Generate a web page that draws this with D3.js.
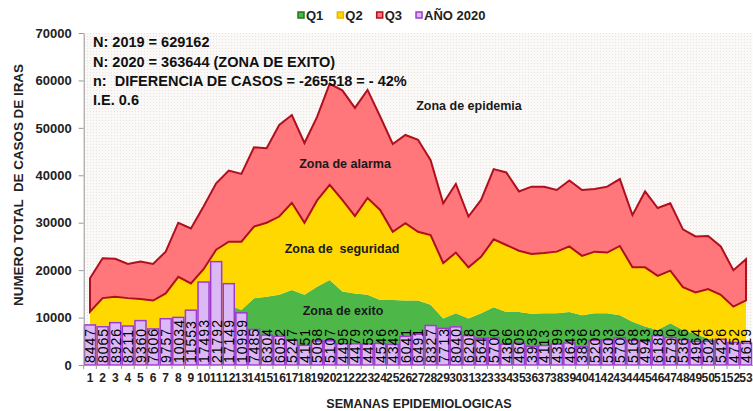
<!DOCTYPE html>
<html lang="es">
<head>
<meta charset="UTF-8">
<title>Canal endemico IRAS 2020</title>
<script src="https://d3js.org/d3.v7.min.js"></script>
<style>
  body { margin: 0; background: #fff; }
  svg { display: block; font-family: "Liberation Sans", Arial, sans-serif; }
</style>
</head>
<body>
<div id="chart"></div>
<script>
// semanas epidemiologicas 1..53
const weeks = d3.range(1, 54);

// canal endemico (limites acumulados)
const q1 = [0, 0, 0, 0, 0, 0, 0, 0, 0, 0, 0, 12700, 11600, 14100, 14400, 14800, 15800, 14800, 16500, 17900,
  15500, 15100, 14800, 13700, 13700, 13600, 13600, 12700, 9800, 10900, 9800, 10900, 12200, 11200, 11200, 10800,
  10900, 10900, 11200, 10500, 10900, 10900, 10500, 9100, 8100, 7400, 8800, 7400, 6500, 5600, 5000, 4600, 4400];
const q2 = [11250, 14100, 14400, 14100, 13900, 13600, 15100, 18600, 17200, 20200, 24300, 26000, 26000, 29200, 30000,
  31300, 34200, 30000, 34700, 38000, 34800, 31400, 35200, 32700, 28100, 29900, 28100, 27400, 21500, 23700, 20600,
  22800, 26500, 25300, 24100, 23400, 23600, 23900, 25000, 23000, 23900, 23700, 25100, 20600, 20600, 18800, 19900,
  16400, 15300, 16000, 14800, 12300, 13600];
const q3 = [18300, 22500, 22400, 21300, 21800, 21300, 23900, 30000, 28800, 33400, 38300, 41000, 40300, 45900, 45700,
  50600, 52700, 46800, 52300, 59300, 57900, 54200, 58000, 52400, 46600, 48500, 47500, 43200, 34100, 38200, 31300,
  34800, 41300, 40600, 36600, 37600, 37600, 36900, 38900, 36900, 37100, 37600, 39200, 31600, 36600, 33100, 34100,
  28600, 27100, 27200, 25000, 20000, 22300];

// casos 2020
const cases2020 = [8447, 8065, 8926, 8211, 9360, 7606, 9757, 10034, 11553, 17493, 21792, 17149, 10999, 7485, 6304,
  6052, 5247, 4151, 5068, 5107, 4495, 4479, 4453, 4546, 4343, 6041, 6491, 8327, 7713, 8040, 6208, 5649, 5700,
  4366, 4605, 3935, 4113, 4399, 4643, 3836, 5205, 5303, 5706, 5168, 4943, 6188, 5790, 5366, 4964, 5026, 5426,
  4752, 4619];

const yTicks = [0, 10000, 20000, 30000, 40000, 50000, 60000, 70000];

const notes = [
  "N: 2019 = 629162",
  "N: 2020 = 363644 (ZONA DE EXITO)",
  "n:  DIFERENCIA DE CASOS = -265518 = - 42%",
  "I.E. 0.6"
];

const legendItems = [
  { label: "Q1", fill: "#4DB848", stroke: "#1E7A1E" },
  { label: "Q2", fill: "#FFD800", stroke: "#F0B400" },
  { label: "Q3", fill: "#FF767B", stroke: "#B0101E" },
  { label: "AÑO 2020", fill: "#DDB8F6", stroke: "#9C3CCB" }
];

const width = 753, height = 411;
const margin = { top: 33, right: 0.7, bottom: 46, left: 83.7 };

const svg = d3.select("#chart").append("svg")
  .attr("width", width)
  .attr("height", height);

const x = d3.scaleBand()
  .domain(weeks)
  .range([margin.left, width - margin.right])
  .padding(0);

const y = d3.scaleLinear()
  .domain([0, 70000])
  .range([height - margin.bottom, margin.top]);

const cx = w => x(w) + x.bandwidth() / 2;

// fondo punteado del area de trazado
const defs = svg.append("defs");
const pat = defs.append("pattern")
  .attr("id", "dots")
  .attr("width", 3).attr("height", 3)
  .attr("patternUnits", "userSpaceOnUse");
pat.append("rect").attr("width", 3).attr("height", 3).attr("fill", "#fbf9f7");
pat.append("rect").attr("width", 1).attr("height", 1).attr("fill", "#e9e3de");

svg.append("rect")
  .attr("x", margin.left)
  .attr("y", margin.top)
  .attr("width", width - margin.right - margin.left)
  .attr("height", y(0) - margin.top)
  .attr("fill", "url(#dots)");

// areas apiladas
const zones = [
  { lo: weeks.map(() => 0), hi: q1, fill: "#4DB848", stroke: "none" },
  { lo: q1, hi: q2, fill: "#FFD800", stroke: "none" },
  { lo: q2, hi: q3, fill: "#FF767B", stroke: "#B0101E" }
];

zones.forEach(z => {
  const area = d3.area()
    .x((d, i) => cx(weeks[i]))
    .y0((d, i) => y(z.lo[i]))
    .y1((d, i) => y(z.hi[i]));
  svg.append("path")
    .datum(weeks)
    .attr("d", area)
    .attr("fill", z.fill)
    .attr("stroke", z.stroke)
    .attr("stroke-width", 2)
    .attr("stroke-linejoin", "miter");
});

// barras 2020
svg.append("g")
  .selectAll("rect")
  .data(cases2020)
  .join("rect")
  .attr("x", (d, i) => x(weeks[i]) + 0.8)
  .attr("y", d => y(d))
  .attr("width", x.bandwidth() - 1.6)
  .attr("height", d => y(0) - y(d))
  .attr("fill", "#DDB8F6")
  .attr("stroke", "#9C3CCB")
  .attr("stroke-width", 1.5);

svg.append("g")
  .selectAll("text")
  .data(cases2020)
  .join("text")
  .attr("transform", (d, i) => `translate(${cx(weeks[i]) + 0.3},${y(0) - 2}) rotate(-90)`)
  .attr("dy", "0.36em")
  .attr("font-size", 14)
  .attr("letter-spacing", 1)
  .attr("fill", "#000")
  .text(d => d);

// eje Y
const yAxis = svg.append("g")
  .attr("transform", `translate(${margin.left},0)`)
  .call(d3.axisLeft(y).tickValues(yTicks).tickFormat(d3.format("d")).tickSize(5).tickSizeOuter(0).tickPadding(7));
yAxis.select(".domain").attr("stroke", "#999");
yAxis.selectAll(".tick line").attr("stroke", "#999");
yAxis.selectAll("text")
  .attr("font-size", 13)
  .attr("font-weight", "bold")
  .attr("fill", "#222")
  .attr("font-family", "Liberation Sans, Arial, sans-serif");

// eje X
const xAxis = svg.append("g")
  .attr("transform", `translate(0,${y(0)})`)
  .call(d3.axisBottom(x).tickSize(0).tickPadding(8));
xAxis.select(".domain").attr("stroke", "#999");
xAxis.selectAll("text")
  .attr("font-size", 12)
  .attr("font-weight", "bold")
  .attr("fill", "#222")
  .attr("font-family", "Liberation Sans, Arial, sans-serif");
xAxis.selectAll(".sep")
  .data(weeks)
  .join("line")
  .attr("x1", w => x(w)).attr("x2", w => x(w))
  .attr("y1", 0).attr("y2", 4)
  .attr("stroke", "#999");

// titulos de ejes
svg.append("text")
  .attr("transform", "translate(18,185) rotate(-90)")
  .attr("text-anchor", "middle")
  .attr("dy", "0.36em")
  .attr("font-size", 13.4)
  .attr("font-weight", "bold")
  .attr("fill", "#222")
  .style("white-space", "pre")
  .text("NUMERO TOTAL  DE CASOS DE IRAS");

svg.append("text")
  .attr("x", 419)
  .attr("y", 403)
  .attr("dy", "0.36em")
  .attr("text-anchor", "middle")
  .attr("font-size", 12.6)
  .attr("font-weight", "bold")
  .attr("fill", "#222")
  .text("SEMANAS EPIDEMIOLOGICAS");

// leyenda
const legend = svg.append("g").attr("transform", "translate(298,15)");
let lx = 0;
legendItems.forEach(it => {
  const g = legend.append("g").attr("transform", `translate(${lx},0)`);
  g.append("rect")
    .attr("x", 0).attr("y", -3)
    .attr("width", 6).attr("height", 6)
    .attr("fill", it.fill)
    .attr("stroke", it.stroke)
    .attr("stroke-width", 1.5);
  const t = g.append("text")
    .attr("x", 8).attr("y", 0)
    .attr("dy", "0.35em")
    .attr("font-size", 13)
    .attr("font-weight", "bold")
    .attr("fill", "#222")
    .text(it.label);
  lx += 8 + t.node().getComputedTextLength() + 14;
});

// notas
svg.append("g")
  .selectAll("text")
  .data(notes)
  .join("text")
  .attr("x", 93)
  .attr("y", (d, i) => 42 + i * 19.3)
  .attr("dy", "0.36em")
  .attr("font-size", 14.5)
  .attr("font-weight", "bold")
  .attr("fill", "#111")
  .style("white-space", "pre")
  .text(d => d);

// zonas
const zoneLabels = [
  { text: "Zona de epidemia", x: 469, y: 105 },
  { text: "Zona de alarma", x: 345, y: 163 },
  { text: "Zona de  seguridad", x: 342, y: 248 },
  { text: "Zona de exito", x: 343, y: 310 }
];
svg.append("g")
  .selectAll("text")
  .data(zoneLabels)
  .join("text")
  .attr("x", d => d.x)
  .attr("y", d => d.y)
  .attr("dy", "0.36em")
  .attr("text-anchor", "middle")
  .attr("font-size", 12.5)
  .attr("font-weight", "bold")
  .attr("fill", "#1a1a1a")
  .style("white-space", "pre")
  .text(d => d.text);
</script>
</body>
</html>
